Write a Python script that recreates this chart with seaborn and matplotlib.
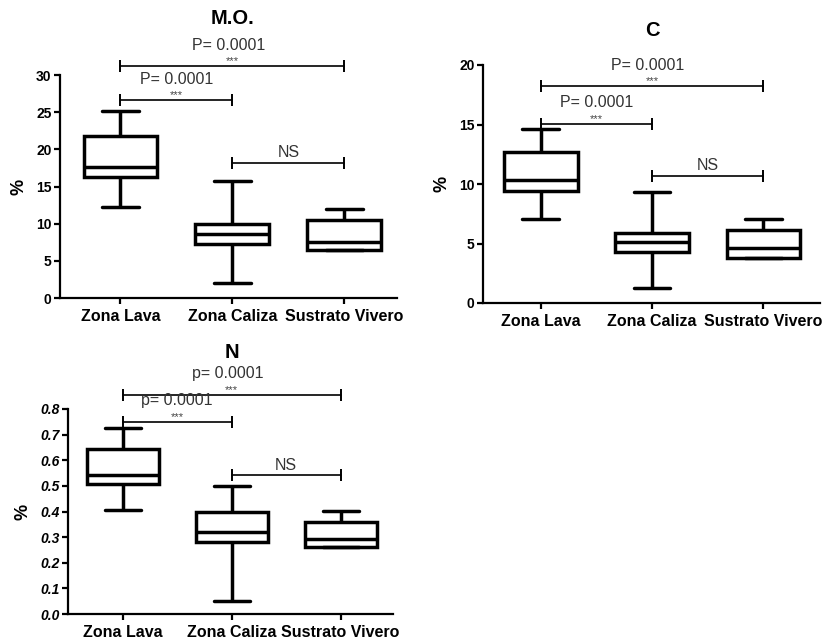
import matplotlib
matplotlib.use("Agg")
import matplotlib.pyplot as plt
import seaborn as sns
import pandas as pd

sns.set_theme(style="ticks")
plt.rcParams["font.family"] = ["Liberation Sans", "DejaVu Sans"]
plt.rcParams.update({
    "text.color": "black",
    "axes.labelcolor": "black",
    "xtick.color": "black",
    "ytick.color": "black",
})

zonas = ["Zona Lava", "Zona Caliza", "Sustrato Vivero"]

# five-number summaries per zone: min, Q1, median, Q3, max
mo_lava = [12.2, 16.3, 17.6, 21.8, 25.1]
mo_caliza = [2.0, 7.2, 8.6, 10.0, 15.8]
mo_vivero = [6.5, 6.5, 7.6, 10.5, 12.0]

c_lava = [7.1, 9.45, 10.3, 12.7, 14.6]
c_caliza = [1.3, 4.25, 5.1, 5.85, 9.3]
c_vivero = [3.75, 3.75, 4.6, 6.1, 7.1]

n_lava = [0.406, 0.509, 0.541, 0.645, 0.726]
n_caliza = [0.049, 0.281, 0.319, 0.397, 0.498]
n_vivero = [0.260, 0.260, 0.294, 0.358, 0.401]

# comparison brackets: (first group, second group, height, label, stars)
mo_brackets = [(0, 2, 31.2, "P= 0.0001", "***"), (0, 1, 26.6, "P= 0.0001", "***"), (1, 2, 18.2, "NS", "")]
c_brackets = [(0, 2, 18.2, "P= 0.0001", "***"), (0, 1, 15.05, "P= 0.0001", "***"), (1, 2, 10.7, "NS", "")]
n_brackets = [(0, 2, 0.856, "p= 0.0001", "***"), (0, 1, 0.750, "p= 0.0001", "***"), (1, 2, 0.541, "NS", "")]

W, H = 830, 639
fig = plt.figure(figsize=(W / 100, H / 100), dpi=100)


def axes_px(left, right, top, bottom):
    return fig.add_axes([left / W, 1 - bottom / H, (right - left) / W, (bottom - top) / H])


def panel(ax, groups, ymax, yticks, xlim, brackets, italic=False, fmt="{:g}"):
    df = pd.DataFrame({
        "zona": [z for z, g in zip(zonas, groups) for _ in g],
        "valor": [v for g in groups for v in g],
    })
    sns.boxplot(data=df, x="zona", y="valor", order=zonas, whis=(0, 100),
                width=0.66, color="white", linecolor="black", linewidth=2.5,
                fliersize=0, ax=ax)
    ax.set_xlim(*xlim)
    ax.set_ylim(0, ymax)
    ax.set_yticks(yticks)
    ax.set_yticklabels([fmt.format(t) for t in yticks], fontsize=10,
                       fontweight="bold", style="italic" if italic else "normal")
    ax.set_xticks(range(3))
    ax.set_xticklabels(zonas, fontsize=11.5, fontweight="bold")
    ax.set_xlabel("")
    ax.set_ylabel("%", fontsize=13, fontweight="bold", labelpad=6)
    for s in ("top", "right"):
        ax.spines[s].set_visible(False)
    for s in ("left", "bottom"):
        ax.spines[s].set_linewidth(1.6)
        ax.spines[s].set_color("black")
    ax.tick_params(axis="both", direction="out", length=4, width=1.6, colors="black")
    ax.tick_params(axis="y", pad=2)
    ax.tick_params(axis="x", pad=4)
    ax.set_facecolor("white")

    for a, b, y, label, stars in brackets:
        ax.plot([a, b], [y, y], color="black", lw=1.2, marker="|", markersize=8,
                markeredgewidth=1.4, clip_on=False)
        xm = (a + b) / 2
        if stars:
            ax.annotate(stars, (xm, y), xytext=(0, 0), textcoords="offset pixels",
                        ha="center", va="bottom", fontsize=8, color="#444444",
                        annotation_clip=False)
            ax.annotate(label, (xm, y), xytext=(-4 if b - a == 2 else 0, 21),
                        textcoords="offset pixels", ha="center", va="center",
                        fontsize=11.5, color="#333333", annotation_clip=False)
        else:
            ax.annotate(label, (xm, y), xytext=(0, 10), textcoords="offset pixels",
                        ha="center", va="center", fontsize=11.5, color="#333333",
                        annotation_clip=False)


ax1 = axes_px(60, 397, 75, 298)
panel(ax1, [mo_lava, mo_caliza, mo_vivero], 30, [0, 5, 10, 15, 20, 25, 30],
      (-0.54, 2.47), mo_brackets)

ax2 = axes_px(483, 820, 65, 303)
panel(ax2, [c_lava, c_caliza, c_vivero], 20, [0, 5, 10, 15, 20],
      (-0.52, 2.51), c_brackets)

ax3 = axes_px(68, 393, 409, 614)
panel(ax3, [n_lava, n_caliza, n_vivero], 0.8, [i / 10 for i in range(9)],
      (-0.50, 2.48), n_brackets, italic=True, fmt="{:.1f}")

fig.text(232 / W, 1 - 18 / H, "M.O.", ha="center", va="center", fontsize=14.5, fontweight="bold")
fig.text(652 / W, 1 - 30 / H, "C", ha="center", va="center", fontsize=14.5, fontweight="bold")
fig.text(232 / W, 1 - 352 / H, "N", ha="center", va="center", fontsize=14.5, fontweight="bold")

fig.savefig("out.png", dpi=100, facecolor="white")
